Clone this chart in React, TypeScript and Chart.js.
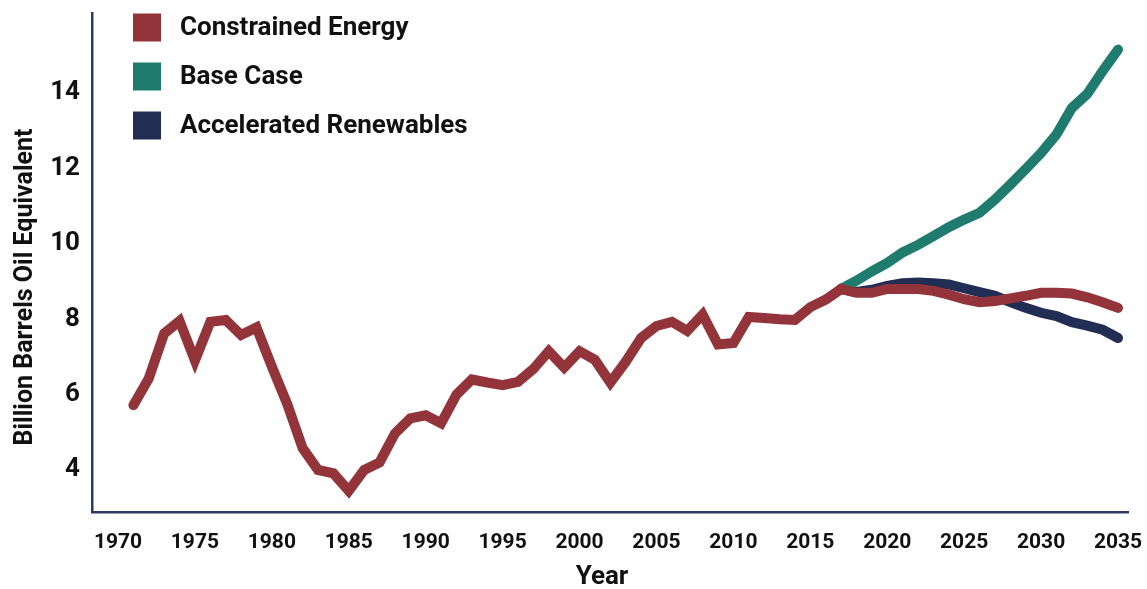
import React, { useEffect, useRef } from "react";
import { Chart, registerables } from "chart.js";

Chart.register(...registerables);

const firstYear = 1971;
const projectionStart = 2017;

const constrainedEnergy = [
  5.72, 6.43, 7.62, 7.95, 6.9, 7.93, 7.98, 7.58, 7.78, 6.74,
  5.75, 4.58, 4.0, 3.91, 3.45, 4.0, 4.2, 4.97, 5.37, 5.45,
  5.24, 6.0, 6.4, 6.32, 6.25, 6.34, 6.68, 7.15, 6.72, 7.15,
  6.92, 6.32, 6.87, 7.5, 7.82, 7.93, 7.69, 8.12, 7.33, 7.37,
  8.06, 8.03, 8.0, 7.98, 8.32, 8.52, 8.8, 8.7, 8.7, 8.8,
  8.8, 8.8, 8.75, 8.65, 8.53, 8.45, 8.48, 8.55, 8.62, 8.7,
  8.7, 8.68, 8.58, 8.45, 8.3,
];

// 2017 - 2035
const baseCase = [
  8.8, 9.02, 9.27, 9.49, 9.77, 9.97, 10.2, 10.44, 10.64, 10.82,
  11.17, 11.57, 11.98, 12.41, 12.9, 13.6, 13.97, 14.58, 15.15,
];

const acceleratedRenewables = [
  8.8, 8.72, 8.78, 8.88, 8.95, 8.97, 8.95, 8.92, 8.82, 8.72,
  8.62, 8.45, 8.3, 8.17, 8.08, 7.92, 7.83, 7.72, 7.5,
];

const xTickYears = [1970, 1975, 1980, 1985, 1990, 1995, 2000, 2005, 2010, 2015, 2020, 2025, 2030, 2035];
const yTickValues = [4, 6, 8, 10, 12, 14];

const seriesNames = ["Constrained Energy", "Base Case", "Accelerated Renewables"];
const seriesColors = ["#93343b", "#1e7b6e", "#212d52"];

const yAxisTitle = "Billion Barrels Oil Equivalent";
const xAxisTitle = "Year";

const FONT = "Roboto, 'Noto Sans', sans-serif";

const toPoints = (start: number, values: number[]) =>
  values.map((v, i) => ({ x: start + i, y: v }));

const overlayPlugin = {
  id: "overlay",
  afterDraw(chart: any) {
    const ctx = chart.ctx as CanvasRenderingContext2D;
    const area = chart.chartArea;
    ctx.save();
    // legend
    const lx = area.left + 41;
    const boxSize = 28;
    const rowGap = 49;
    ctx.font = `bold 26px ${FONT}`;
    ctx.textBaseline = "middle";
    ctx.textAlign = "left";
    chart.data.datasets.forEach((ds: any, i: number) => {
      const top = area.top + 0.5 + i * rowGap;
      ctx.fillStyle = ds.borderColor;
      ctx.fillRect(lx, top, boxSize, boxSize);
      ctx.fillStyle = "#111111";
      ctx.fillText(ds.label, lx + 47, top + boxSize / 2 + 1);
    });
    // axis titles
    ctx.fillStyle = "#111111";
    ctx.textAlign = "center";
    ctx.textBaseline = "middle";
    ctx.font = `bold 26px ${FONT}`;
    ctx.fillText(xAxisTitle, 602, 577);
    ctx.font = `bold 25px ${FONT}`;
    ctx.translate(26, 287);
    ctx.rotate(-Math.PI / 2);
    ctx.fillText(yAxisTitle, 0, 0);
    ctx.restore();
  },
};

const zeroPadding = (scale: any) => {
  scale.paddingLeft = 0;
  scale.paddingRight = 0;
  scale.paddingTop = 0;
  scale.paddingBottom = 0;
};

export default function App() {
  const canvasRef = useRef<HTMLCanvasElement | null>(null);

  useEffect(() => {
    const canvas = canvasRef.current;
    if (!canvas) return;
    const chart = new Chart(canvas, {
      type: "line",
      data: {
        datasets: [
          {
            label: seriesNames[0],
            data: toPoints(firstYear, constrainedEnergy),
            borderColor: seriesColors[0],
            backgroundColor: seriesColors[0],
          },
          {
            label: seriesNames[1],
            data: toPoints(projectionStart, baseCase),
            borderColor: seriesColors[1],
            backgroundColor: seriesColors[1],
          },
          {
            label: seriesNames[2],
            data: toPoints(projectionStart, acceleratedRenewables),
            borderColor: seriesColors[2],
            backgroundColor: seriesColors[2],
          },
        ] as any,
      },
      options: {
        animation: false,
        responsive: false,
        maintainAspectRatio: false,
        layout: { padding: { left: 0, top: 13, right: 19, bottom: 0 } },
        elements: {
          line: { borderWidth: 10, tension: 0, borderCapStyle: "round", borderJoinStyle: "miter", fill: false },
          point: { radius: 0, hoverRadius: 0 },
        },
        plugins: {
          legend: { display: false },
          tooltip: { enabled: false },
          title: { display: false },
        },
        scales: {
          x: {
            type: "linear",
            min: 1968.31,
            max: 2035.65,
            grid: { display: false, drawTicks: false },
            border: { display: true, color: "#2e3a63", width: 2.5 },
            ticks: {
              padding: 18,
              color: "#111111",
              font: { family: FONT, size: 21, weight: "bold" },
              callback: (v: any) => String(v),
            },
            afterBuildTicks: (scale: any) => {
              scale.ticks = xTickYears.map((v) => ({ value: v }));
            },
            afterFit: (scale: any) => {
              scale.height = 77;
              zeroPadding(scale);
            },
          },
          y: {
            type: "linear",
            min: 2.886,
            max: 16.12,
            grid: { display: false, drawTicks: false },
            border: { display: true, color: "#2e3a63", width: 2.5 },
            ticks: {
              padding: 12,
              color: "#111111",
              font: { family: FONT, size: 26, weight: "bold" },
              callback: (v: any) => String(v),
            },
            afterBuildTicks: (scale: any) => {
              scale.ticks = yTickValues.map((v) => ({ value: v }));
            },
            afterFit: (scale: any) => {
              scale.width = 92;
              zeroPadding(scale);
            },
          },
        },
      } as any,
      plugins: [overlayPlugin],
    });
    return () => chart.destroy();
  }, []);

  return (
    <div style={{ position: "absolute", left: 0, top: 0, width: 1147, height: 589, background: "#ffffff" }}>
      <canvas ref={canvasRef} width={1147} height={589} />
    </div>
  );
}
